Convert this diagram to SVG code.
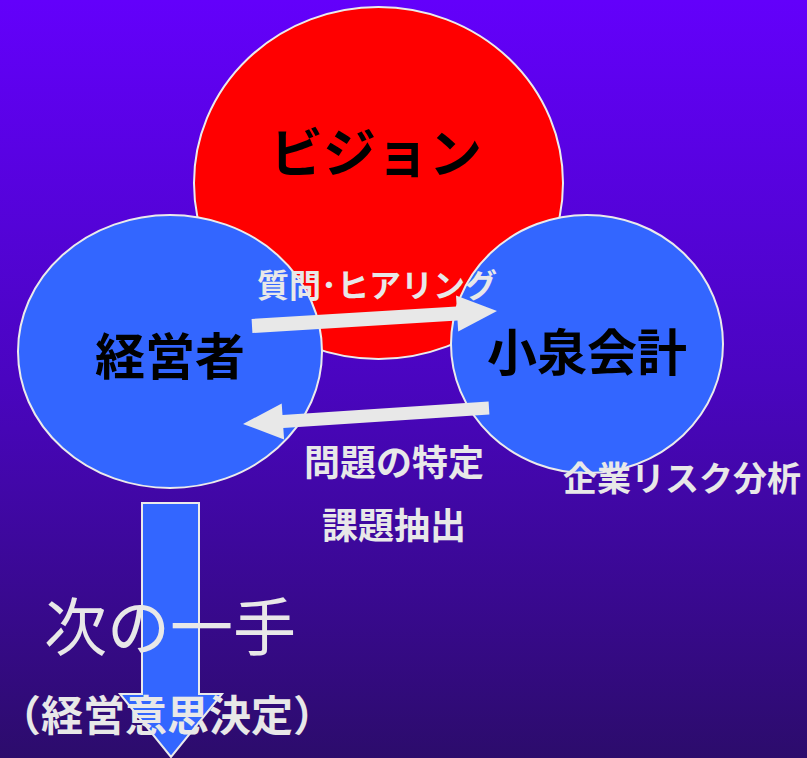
<svg xmlns="http://www.w3.org/2000/svg" width="807" height="758" viewBox="0 0 807 758">
<defs>
<linearGradient id="bg" x1="0" y1="0" x2="0" y2="1">
<stop offset="0" stop-color="#6300fb"/>
<stop offset="0.5" stop-color="#4a05c0"/>
<stop offset="1" stop-color="#2c0c6c"/>
</linearGradient>
<style>
.node{stroke:#ebebeb;stroke-width:2}
.blue{fill:#3366ff}
.red{fill:#ff0000}
.lbl{font-family:"Noto Sans CJK JP","Noto Sans",sans-serif;font-weight:bold;text-anchor:middle;dominant-baseline:central}
.dark{fill:#000}
.light{fill:#e8e8e8}
.arr{fill:#e8e8e8}
</style>
</defs>
<rect width="807" height="758" fill="url(#bg)"/>
<g id="vision">
<ellipse class="node red" cx="378.5" cy="183" rx="184.5" ry="176"/>
<text class="lbl dark" x="376" y="150" font-size="53">ビジョン</text>
</g>
<g id="keieisha">
<ellipse class="node blue" cx="170" cy="351.5" rx="152" ry="136.5"/>
</g>
<g id="koizumi">
<ellipse class="node blue" cx="587" cy="344" rx="136" ry="129"/>
</g>
<g id="connectors">
<polygon class="arr" points="251.6,319 456.7,306.4 456,295.4 497,311 458.2,331.4 457.5,320.4 252.4,333"/>
<polygon class="arr" points="488.6,401.5 282.5,414.9 281.7,403.4 243,424 284.1,439.4 283.3,427.9 489.4,414.5"/>
</g>
<g id="next-step">
<polygon class="node blue" points="142,503 199,503 199,694 222,694 171,757 120,694 142,694"/>
</g>
<g id="labels">
<text class="lbl dark" x="170" y="353" font-size="50">経営者</text>
<text class="lbl dark" x="587" y="349" font-size="50">小泉会計</text>
<text class="lbl light" x="377" y="283" font-size="32">質問･ヒアリング</text>
<text class="lbl light" x="394" y="460" font-size="36">問題の特定</text>
<text class="lbl light" x="394" y="523" font-size="36">課題抽出</text>
<text class="lbl light" x="682" y="476" font-size="34">企業リスク分析</text>
<text class="lbl light" x="170" y="622" font-size="63" style="font-weight:normal">次の一手</text>
<text class="lbl light" x="167" y="712" font-size="42">（経営意思決定）</text>
</g>
</svg>
